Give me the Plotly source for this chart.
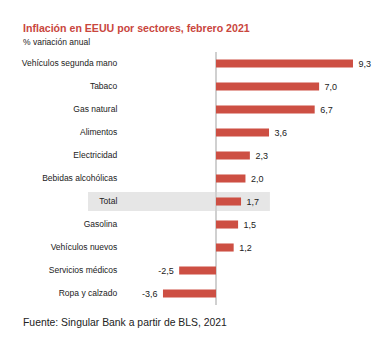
import plotly.graph_objects as go

# Inflation by sector, year-on-year %, February 2021
categorias = [
    "Vehículos segunda mano", "Tabaco", "Gas natural", "Alimentos",
    "Electricidad", "Bebidas alcohólicas", "Total", "Gasolina",
    "Vehículos nuevos", "Servicios médicos", "Ropa y calzado",
]
variacion = [9.3, 7.0, 6.7, 3.6, 2.3, 2.0, 1.7, 1.5, 1.2, -2.5, -3.6]

ROJO = "#CD4F43"
FUENTE = "Liberation Sans"
PAD = "\u00a0"

# value labels keep a little extra room from the bar end
plantillas = [PAD + "%{x:.1f}" if v >= 0 else "%{x:.1f}" + PAD for v in variacion]

fig = go.Figure()
fig.add_trace(go.Bar(
    y=categorias,
    x=variacion,
    orientation="h",
    width=0.35,
    marker=dict(color=ROJO, line=dict(width=0)),
    texttemplate=plantillas,
    textposition="outside",
    constraintext="none",
    cliponaxis=False,
    textfont=dict(family=FUENTE, size=9, color="#222222"),
    hoverinfo="skip",
))

# Grey band behind the "Total" row
fig.add_shape(
    type="rect", xref="paper", yref="y",
    x0=-0.175, x1=0.583, y0=6 - 0.41, y1=6 + 0.41,
    fillcolor="#E6E6E6", line=dict(width=0), layer="below",
)

X_TEXTO = -0.454

fig.update_layout(
    width=382, height=337,
    margin=dict(l=130, r=12, t=51.5, b=31.5),
    paper_bgcolor="white", plot_bgcolor="white",
    separators=",.",
    showlegend=False,
    font=dict(family=FUENTE, size=8.5, color="#222222"),
    xaxis=dict(
        range=[-5.838, 10.455], showgrid=False, showticklabels=False,
        ticks="", zeroline=True, zerolinecolor="#D0D0D0", zerolinewidth=1.5,
        fixedrange=True,
    ),
    yaxis=dict(
        categoryorder="array", categoryarray=categorias, autorange="reversed",
        showgrid=False, zeroline=False, ticks="outside", ticklen=10,
        tickcolor="rgba(0,0,0,0)", tickfont=dict(family=FUENTE, size=8.5, color="#222222"),
        fixedrange=True,
    ),
    annotations=[
        dict(text="<b>Inflación en EEUU por sectores, febrero 2021</b>",
             xref="paper", yref="paper", x=X_TEXTO, y=1.0,
             xanchor="left", yanchor="middle", yshift=24,
             showarrow=False, font=dict(family=FUENTE, size=10.6, color="#C9463D")),
        dict(text="% variación anual",
             xref="paper", yref="paper", x=X_TEXTO, y=1.0,
             xanchor="left", yanchor="middle", yshift=10,
             showarrow=False, font=dict(family=FUENTE, size=8.5, color="#222222")),
        dict(text="Fuente: Singular Bank a partir de BLS, 2021",
             xref="paper", yref="paper", x=X_TEXTO, y=0.0,
             xanchor="left", yanchor="middle", yshift=-17.5,
             showarrow=False, font=dict(family=FUENTE, size=10.4, color="#222222")),
    ],
)

fig.write_html("out.html")
